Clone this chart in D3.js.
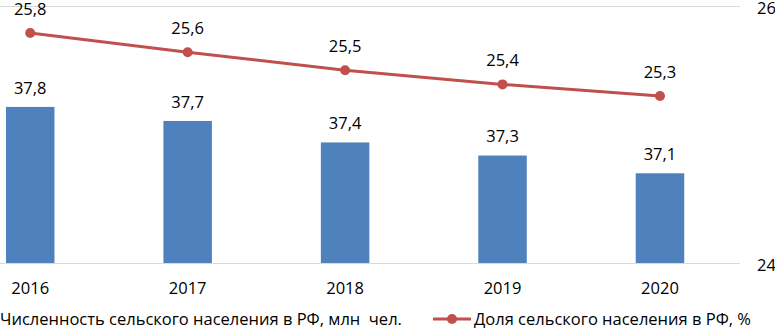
<!DOCTYPE html>
<html>
<head>
<meta charset="utf-8">
<script src="https://cdn.jsdelivr.net/npm/d3@7"></script>
<style>
  body { margin: 0; background: #fff; }
  svg { display: block; font-family: "Open Sans", "Noto Sans", sans-serif; }
  text { white-space: pre; }
</style>
</head>
<body>
<div id="viz"></div>
<script>
const years = ["2016", "2017", "2018", "2019", "2020"];
const populationMln = [37.82, 37.67, 37.44, 37.30, 37.11];
const ruralShare = [25.79, 25.64, 25.50, 25.39, 25.30];
const rightTicks = [24, 26];
const barLegendLabel = "Численность сельского населения в РФ, млн  чел.";
const lineLegendLabel = "Доля сельского населения в РФ, %";

const width = 775, height = 328;
const plotTop = 6, plotBottom = 263;
const barColor = "#4F81BD", lineColor = "#C0504D";
const fontSize = "16.5px";
const fmt = v => v.toFixed(1).replace(".", ",");

const svg = d3.select("#viz")
  .append("svg")
    .attr("width", width)
    .attr("height", height);

// plot area starts left of the picture (cropped in the original)
const x = d3.scaleBand()
  .domain(years)
  .range([-48.5, 738.7])
  .paddingInner(0.692)
  .paddingOuter(0.346);

const yLeft = d3.scaleLinear()
  .domain([36.15, 38.9])
  .range([plotBottom, plotTop]);

const yRight = d3.scaleLinear()
  .domain([24, 26])
  .range([plotBottom, plotTop]);

// gridlines from the right axis
svg.append("g")
  .selectAll("line")
  .data(rightTicks)
  .join("line")
    .attr("x1", 0)
    .attr("x2", 740)
    .attr("y1", d => Math.round(yRight(d)) + 0.5)
    .attr("y2", d => Math.round(yRight(d)) + 0.5)
    .attr("stroke", "#d9d9d9")
    .attr("stroke-width", 1);

svg.append("g")
  .selectAll("text")
  .data(rightTicks)
  .join("text")
    .attr("x", 757)
    .attr("y", d => yRight(d) + 2)
    .attr("dy", "0.35em")
    .style("font-size", fontSize)
    .text(d => d);

// bars
svg.append("g")
  .selectAll("rect")
  .data(years)
  .join("rect")
    .attr("x", d => x(d))
    .attr("width", x.bandwidth())
    .attr("y", (d, i) => yLeft(populationMln[i]))
    .attr("height", (d, i) => plotBottom - yLeft(populationMln[i]))
    .attr("fill", barColor);

svg.append("g")
  .selectAll("text")
  .data(years)
  .join("text")
    .attr("x", d => x(d) + x.bandwidth() / 2)
    .attr("y", (d, i) => yLeft(populationMln[i]) - 19)
    .attr("dy", "0.35em")
    .attr("text-anchor", "middle")
    .style("font-size", fontSize)
    .text((d, i) => fmt(populationMln[i]));

// line
const cx = d => x(d) + x.bandwidth() / 2;
const line = d3.line()
  .x(d => cx(d[0]))
  .y(d => yRight(d[1]));
const linePts = years.map((d, i) => [d, ruralShare[i]]);

svg.append("path")
  .datum(linePts)
  .attr("d", line)
  .attr("fill", "none")
  .attr("stroke", lineColor)
  .attr("stroke-width", 3);

svg.append("g")
  .selectAll("circle")
  .data(linePts)
  .join("circle")
    .attr("cx", d => cx(d[0]))
    .attr("cy", d => yRight(d[1]))
    .attr("r", 5)
    .attr("fill", lineColor);

svg.append("g")
  .selectAll("text")
  .data(linePts)
  .join("text")
    .attr("x", d => cx(d[0]))
    .attr("y", d => yRight(d[1]) - 24)
    .attr("dy", "0.35em")
    .attr("text-anchor", "middle")
    .style("font-size", fontSize)
    .text(d => fmt(d[1]));

// category axis labels
svg.append("g")
  .selectAll("text")
  .data(years)
  .join("text")
    .attr("x", d => cx(d))
    .attr("y", 288)
    .attr("dy", "0.35em")
    .attr("text-anchor", "middle")
    .style("font-size", fontSize)
    .text(d => d);

// legend
const legend = svg.append("g").attr("transform", "translate(0,319)");
legend.append("text")
  .attr("x", 0)
  .attr("dy", "0.35em")
  .style("font-size", fontSize)
  .text(barLegendLabel);

legend.append("line")
  .attr("x1", 433).attr("x2", 471)
  .attr("stroke", lineColor)
  .attr("stroke-width", 3);
legend.append("circle")
  .attr("cx", 452)
  .attr("r", 5)
  .attr("fill", lineColor);
legend.append("text")
  .attr("x", 474)
  .attr("dy", "0.35em")
  .style("font-size", fontSize)
  .text(lineLegendLabel);
</script>
</body>
</html>
